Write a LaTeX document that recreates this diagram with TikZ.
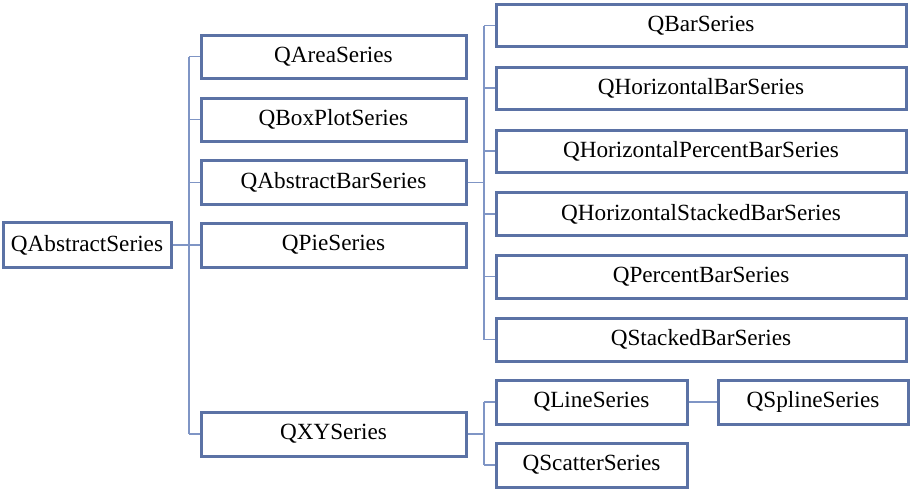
\documentclass[tikz,border=0pt]{standalone}
\usepackage{fontspec}
\setmainfont{Liberation Serif}
\definecolor{boxc}{HTML}{5B72A5}
\definecolor{linec}{HTML}{7F95C5}
\begin{document}
\begin{tikzpicture}[x=1pt,y=-1pt,
  bx/.style={draw=boxc,line width=3pt,inner sep=0pt,font=\fontsize{23.2}{26}\selectfont,anchor=north west},
  ln/.style={draw=linec,line width=1.6pt}]
\useasboundingbox (0,0) rectangle (910,488);
\newcommand\bxx[6]{\node[bx,minimum width=#4pt,minimum height=#5pt] (#1) at (#2,#3) {#6};}
\bxx{root}{1.5}{221}{168}{45}{QAbstractSeries}
\bxx{area}{199.5}{33.5}{265}{43}{QAreaSeries}
\bxx{box}{199.5}{96.5}{265}{43}{QBoxPlotSeries}
\bxx{abar}{199.5}{159}{265}{44}{QAbstractBarSeries}
\bxx{pie}{199.5}{221.5}{265}{44}{QPieSeries}
\bxx{xy}{199.5}{410.5}{265}{44}{QXYSeries}
\bxx{bar}{494.5}{3}{410}{42}{QBarSeries}
\bxx{hbar}{494.5}{65.5}{410}{42}{QHorizontalBarSeries}
\bxx{hpbar}{494.5}{128.5}{410}{42}{QHorizontalPercentBarSeries}
\bxx{hsbar}{494.5}{191}{410}{43}{QHorizontalStackedBarSeries}
\bxx{pbar}{494.5}{253.5}{410}{43}{QPercentBarSeries}
\bxx{sbar}{494.5}{316.5}{410}{43}{QStackedBarSeries}
\bxx{line}{494.5}{378.5}{191}{44}{QLineSeries}
\bxx{scat}{494.5}{441.5}{191}{44}{QScatterSeries}
\bxx{spl}{716.5}{378.5}{190}{44}{QSplineSeries}
\coordinate (t1) at (189,0);
\coordinate (t2) at (484,0);
\path[ln] (root.east) -- (root.east -| t1);
\path[ln] (area.west -| t1) -- (xy.west -| t1);
\foreach \n in {area,box,abar,pie,xy} \path[ln] (\n.west -| t1) -- (\n.west);
\path[ln] (abar.east) -- (abar.east -| t2);
\path[ln] (bar.west -| t2) -- (sbar.west -| t2);
\foreach \n in {bar,hbar,hpbar,hsbar,pbar,sbar} \path[ln] (\n.west -| t2) -- (\n.west);
\path[ln] (xy.east) -- (xy.east -| t2);
\path[ln] (line.west -| t2) -- (scat.west -| t2);
\foreach \n in {line,scat} \path[ln] (\n.west -| t2) -- (\n.west);
\path[ln] (line.east) -- (spl.west);
\end{tikzpicture}
\end{document}
